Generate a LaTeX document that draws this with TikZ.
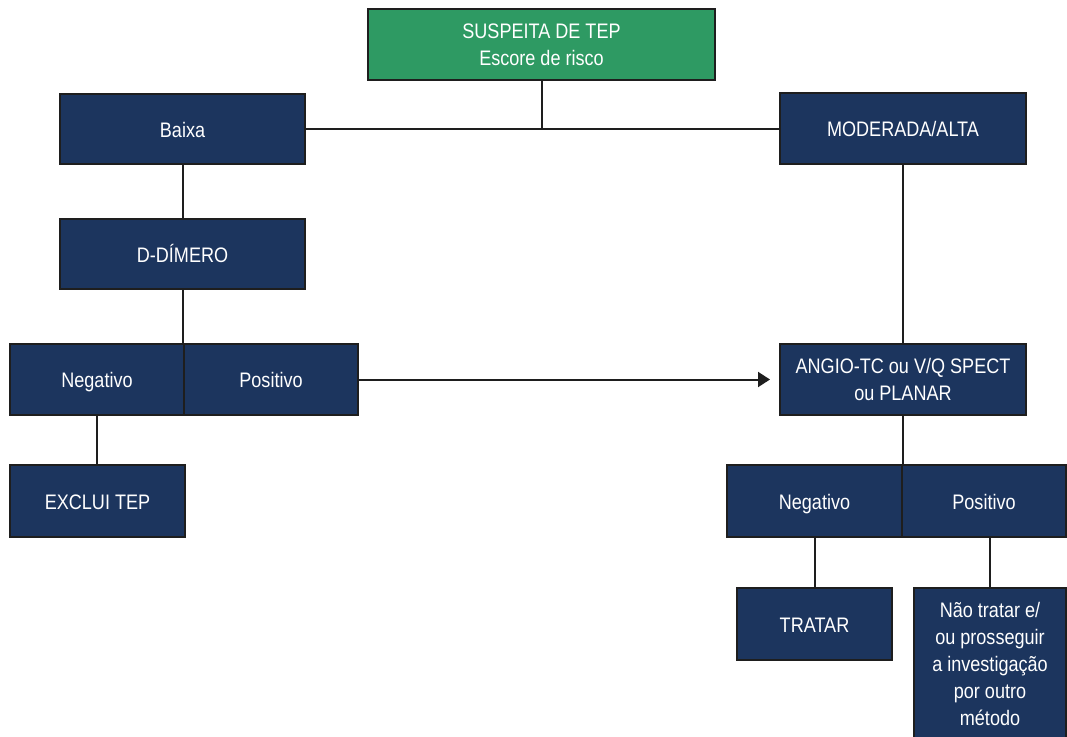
\documentclass[tikz,border=0pt]{standalone}
\usepackage{fontspec}
\setmainfont{Liberation Sans}[FakeStretch=0.86]
\usetikzlibrary{arrows.meta}
\definecolor{navy}{HTML}{1C355E}
\definecolor{tgreen}{HTML}{2E9A63}
\definecolor{edge}{HTML}{1E1E1E}
\begin{document}
\begin{tikzpicture}[x=1pt,y=-1pt,
  box/.style={draw=edge,line width=2pt,fill=navy,text=white,inner sep=0pt,
    align=center,font=\fontsize{21}{27}\selectfont},
  one/.style={text height=16.5pt,text depth=0pt},
  link/.style={draw=edge,line width=2pt}]
\useasboundingbox (0,0) rectangle (1067,736);
\clip (0,0) rectangle (1067,736);
\node[box,fill=tgreen,minimum width=347pt,minimum height=71pt] (top) at (541.5,44.5) {SUSPEITA DE TEP\\Escore de risco};
\node[box,one,minimum width=245pt,minimum height=70pt] (baixa) at (182.5,129) {Baixa};
\node[box,one,minimum width=246pt,minimum height=71pt] (mod) at (903,128.5) {MODERADA/ALTA};
\node[box,one,minimum width=245pt,minimum height=70pt] (ddim) at (182.5,254) {D-DÍMERO};
\node[box,one,minimum width=174pt,minimum height=71pt] (neg1) at (97,379.5) {Negativo};
\node[box,one,minimum width=174pt,minimum height=71pt] (pos1) at (271,379.5) {Positivo};
\node[box,one,minimum width=175pt,minimum height=72pt] (excl) at (97.5,501) {EXCLUI TEP};
\node[box,minimum width=246pt,minimum height=71pt] (angio) at (903,379.5) {ANGIO-TC ou V/Q SPECT\\ou PLANAR};
\node[box,one,minimum width=175pt,minimum height=72pt] (neg2) at (814.5,501) {Negativo};
\node[box,one,minimum width=164pt,minimum height=72pt] (pos2) at (984,501) {Positivo};
\node[box,one,minimum width=155pt,minimum height=72pt] (tratar) at (814.5,624) {TRATAR};
\node[box,minimum width=152pt,minimum height=152pt] (nao) at (990,664) {Não tratar e/\\ou prosseguir\\a investigação\\por outro\\método};
\draw[link] (top.south) -- (top.south |- baixa.east);
\draw[link] (baixa.east) -- (baixa.east -| mod.west);
\draw[link] (baixa.south) -- (ddim.north);
\draw[link] (ddim.south) -- (ddim.south |- neg1.north);
\draw[link] (neg1.south) -- (neg1.south |- excl.north);
\draw[link] (mod.south) -- (angio.north);
\draw[link,-{Triangle[length=12pt,width=15pt]},shorten >=9pt] (pos1.east) -- (angio.west);
\draw[link] (angio.south) -- (angio.south |- neg2.north);
\draw[link] (neg2.south) -- (tratar.north);
\draw[link] (pos2.south -| nao.north) -- (nao.north);
\end{tikzpicture}
\end{document}
